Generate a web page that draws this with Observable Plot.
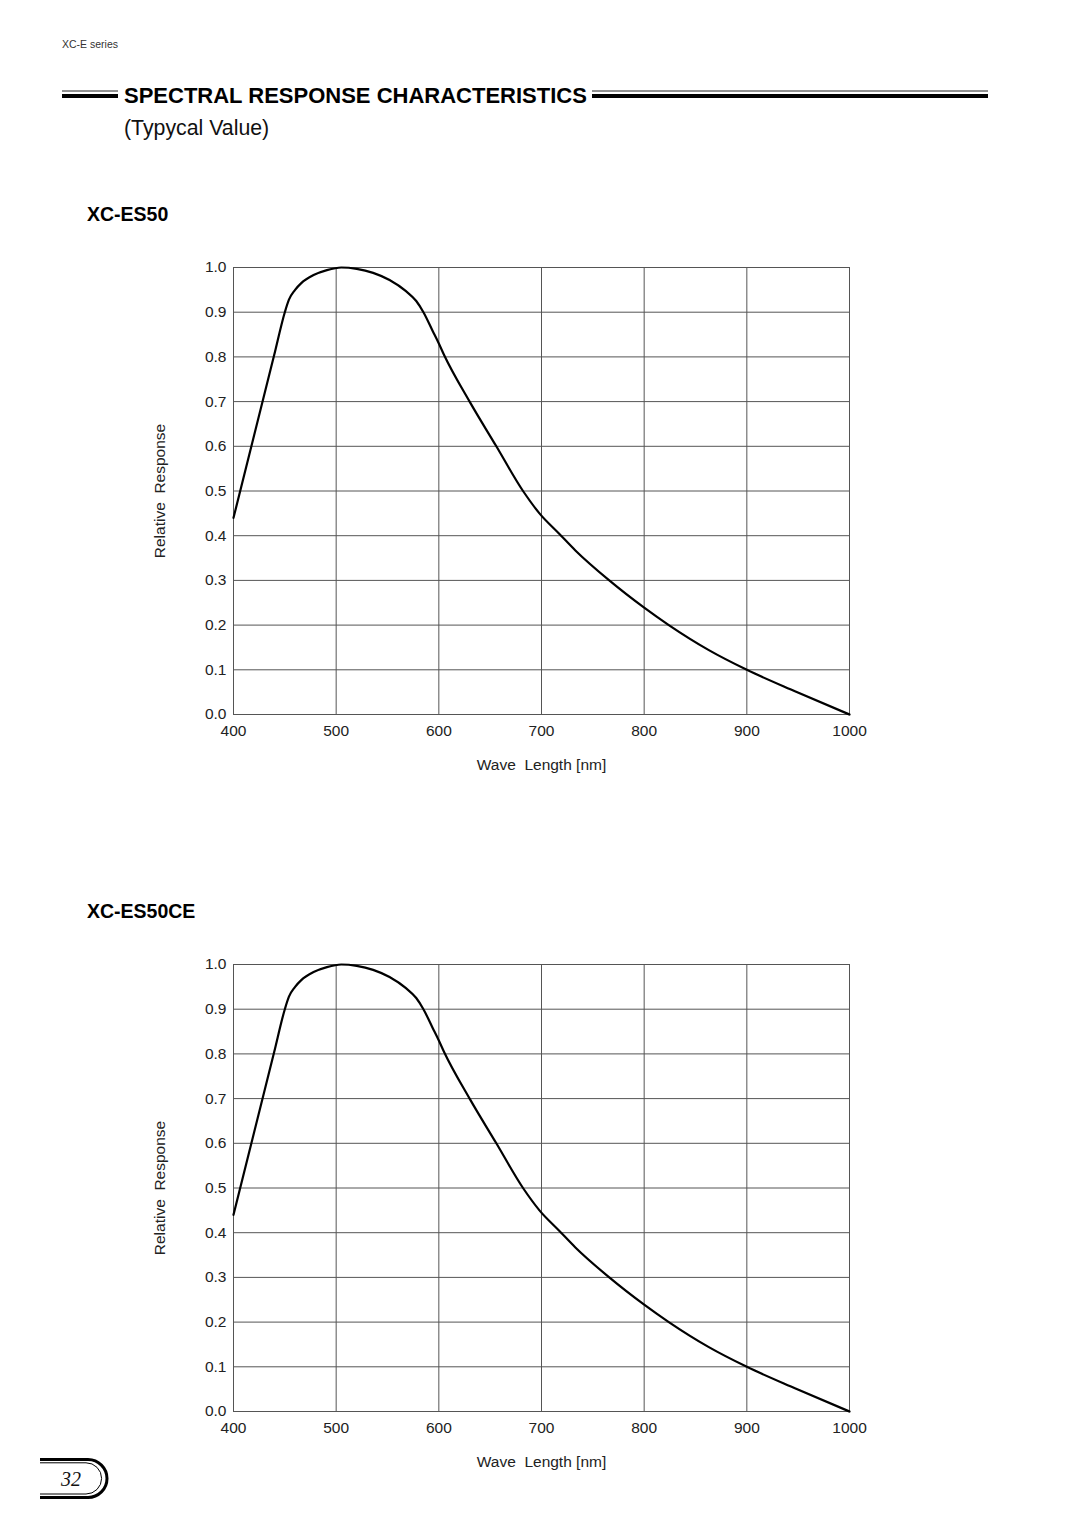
<!DOCTYPE html>
<html>
<head>
<meta charset="utf-8">
<script src="https://cdn.jsdelivr.net/npm/d3@7"></script>
<script src="https://cdn.jsdelivr.net/npm/@observablehq/plot@0.6"></script>
<style>
  html, body { margin: 0; padding: 0; background: #fff; }
  #page { position: relative; width: 1080px; height: 1528px; background: #fff; overflow: hidden;
          font-family: "Liberation Sans", Arial, Helvetica, sans-serif; color: #111; }
  .abs { position: absolute; white-space: pre; }
  .chart svg text { white-space: pre; }
</style>
</head>
<body>
<div id="page">
  <div class="abs" style="left:62px; top:38px; font-size:10.5px; color:#333;">XC-E series</div>
  <svg class="abs" style="left:0; top:0;" width="1080" height="120">
    <line x1="62" x2="118" y1="91" y2="91" stroke="#222" stroke-width="1"/>
    <line x1="62" x2="118" y1="96" y2="96" stroke="#000" stroke-width="4"/>
    <line x1="592" x2="988" y1="91" y2="91" stroke="#222" stroke-width="1"/>
    <line x1="592" x2="988" y1="96" y2="96" stroke="#000" stroke-width="4"/>
  </svg>
  <div class="abs" style="left:124px; top:83px; font-size:22px; font-weight:bold; color:#000;">SPECTRAL RESPONSE CHARACTERISTICS</div>
  <div class="abs" style="left:124px; top:116px; font-size:21.3px; color:#111;">(Typycal Value)</div>
  <div class="abs" style="left:87px; top:203px; font-size:19.5px; font-weight:bold; color:#000;">XC-ES50</div>
  <div class="abs" style="left:87px; top:900px; font-size:19.5px; font-weight:bold; color:#000;">XC-ES50CE</div>
  <div id="chart1" class="abs chart" style="left:140px; top:250px;"></div>
  <div id="chart2" class="abs chart" style="left:140px; top:947px;"></div>
  <svg class="abs" style="left:0; top:1450px;" width="140" height="60">
    <path d="M40,9.5 H88 A19,19 0 0 1 88,47.5 H40" fill="none" stroke="#000" stroke-width="3"/>
    <path d="M40,12.8 H86 A15.6,15.6 0 0 1 86,44 H40" fill="none" stroke="#000" stroke-width="1"/>
    <text x="71" y="36" text-anchor="middle" font-family="Liberation Serif, serif" font-style="italic" font-size="20" fill="#111">32</text>
  </svg>
</div>
<script>
// Wavelength (nm) sample points
const wavelengths = [400, 439.5, 450, 454, 460, 466, 478, 491, 505, 520, 536, 552, 568, 578, 585, 594, 600, 605, 630, 656, 682, 698, 717, 733, 766, 800, 824, 863, 900, 948, 1000];
// Relative response, XC-ES50
const responseES50 = [0.44, 0.803, 0.90, 0.928, 0.950, 0.965, 0.983, 0.994, 1.0, 0.997, 0.988, 0.972, 0.947, 0.925, 0.90, 0.858, 0.83, 0.805, 0.70, 0.60, 0.50, 0.45, 0.405, 0.367, 0.30, 0.239, 0.20, 0.144, 0.10, 0.051, 0.0];
// Relative response, XC-ES50CE
const responseES50CE = [0.44, 0.803, 0.90, 0.928, 0.950, 0.965, 0.983, 0.994, 1.0, 0.997, 0.988, 0.972, 0.947, 0.925, 0.90, 0.858, 0.83, 0.805, 0.70, 0.60, 0.50, 0.45, 0.405, 0.367, 0.30, 0.239, 0.20, 0.144, 0.10, 0.051, 0.0];

const xTicks = [400, 500, 600, 700, 800, 900, 1000];
const yTicks = [0, 0.1, 0.2, 0.3, 0.4, 0.5, 0.6, 0.7, 0.8, 0.9, 1.0];
const xLabel = "Wave  Length [nm]";
const yLabel = "Relative  Response";

function makeChart(values) {
  const data = wavelengths.map((w, i) => ({w, r: values[i]}));
  return Plot.plot({
    width: 740,
    height: 534,
    marginLeft: 93,
    marginTop: 17,
    marginRight: 31,
    marginBottom: 70,
    style: {fontFamily: "Liberation Sans, Arial, sans-serif", background: "white", overflow: "visible"},
    x: {domain: [400, 1000]},
    y: {domain: [0, 1]},
    marks: [
      Plot.ruleX(xTicks, {stroke: "#555", strokeWidth: 1}),
      Plot.ruleY(yTicks, {stroke: "#555", strokeWidth: 1}),
      Plot.frame({stroke: "#555"}),
      Plot.axisX({ticks: xTicks, tickFormat: d => String(d), tickSize: 0, tickPadding: 10, fontSize: 15.5, fill: "#222",
                  label: xLabel, labelAnchor: "center", labelOffset: 55, labelArrow: "none"}),
      Plot.axisY({ticks: yTicks, tickFormat: d3.format(".1f"), tickSize: 0, tickPadding: 7, fontSize: 15.5, fill: "#222",
                  label: yLabel, labelAnchor: "center", labelOffset: 80, labelArrow: "none"}),
      Plot.line(data, {x: "w", y: "r", stroke: "#000", strokeWidth: 2.2, curve: "monotone-x"})
    ]
  });
}

document.getElementById("chart1").appendChild(makeChart(responseES50));
document.getElementById("chart2").appendChild(makeChart(responseES50CE));
</script>
</body>
</html>
